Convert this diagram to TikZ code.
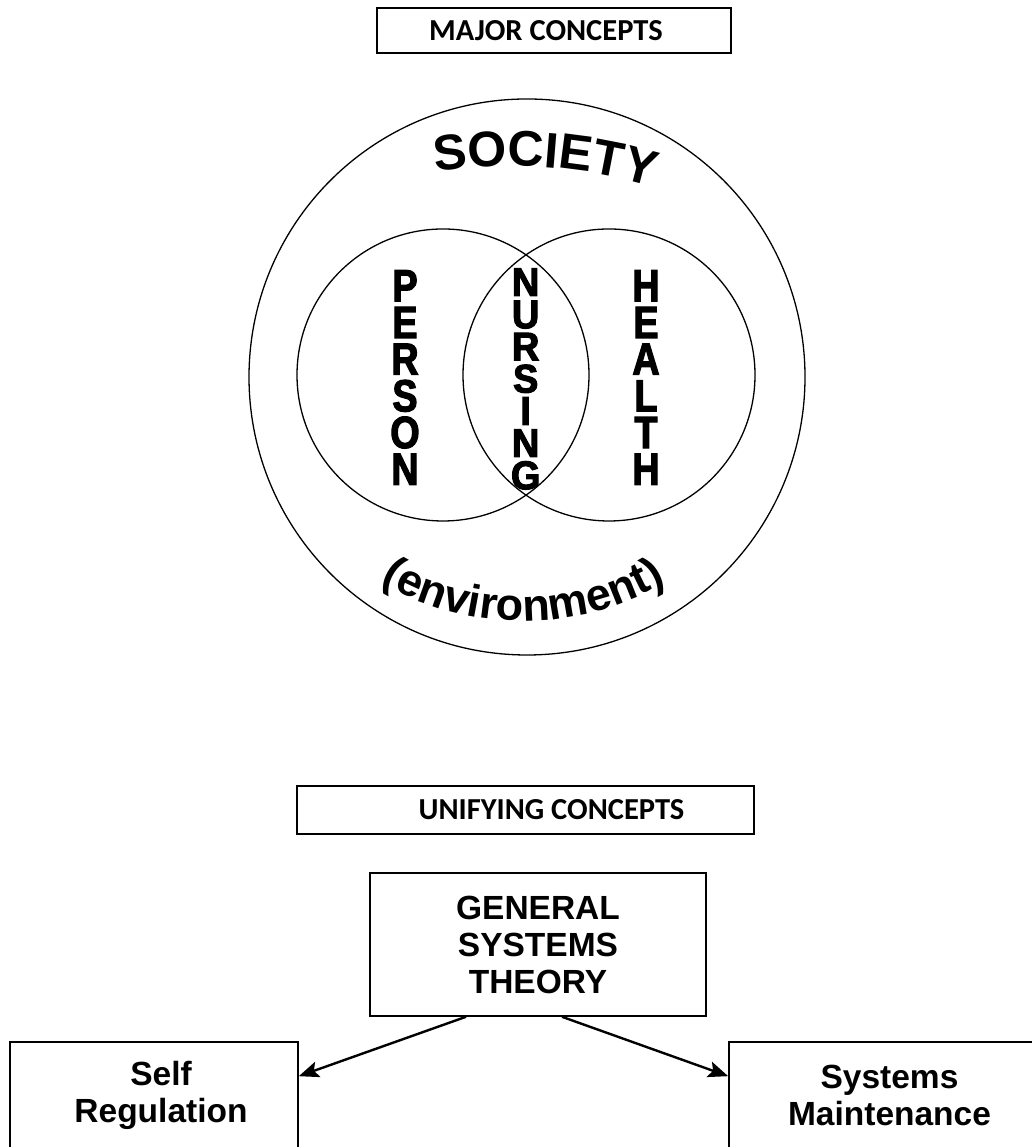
\documentclass[tikz,border=0pt]{standalone}
\usepackage{fontspec}
\setmainfont{Liberation Sans}
\newfontfamily\calibrifont{Carlito}
\newfontfamily\narrowfont[FakeStretch=0.84,FakeBold=2.6]{Liberation Sans Bold}
\newfontfamily\narrowfontB[FakeStretch=0.95,FakeBold=2.6]{Liberation Sans Bold}
\usetikzlibrary{arrows.meta,decorations.text}
\newcommand\mySocFont{\fontsize{50}{60}\selectfont\bfseries}
\newcommand\myEnvFont{\fontsize{45}{54}\selectfont\bfseries}
\tikzset{
  titlebox/.style={draw, line width=1.8pt, inner sep=0pt, font=\calibrifont\bfseries\fontsize{30.5}{36}\selectfont},
  ring/.style={draw, line width=1.3pt},
  vword/.style={align=center, inner sep=0pt},
  bigword/.style={vword, font=\narrowfont\fontsize{45}{36.7}\selectfont},
  midword/.style={vword, font=\narrowfontB\fontsize{40}{32.2}\selectfont},
  conceptbox/.style={draw, line width=1.6pt, inner sep=0pt},
  boxtext/.style={align=center, font=\bfseries\fontsize{33.5}{37}\selectfont},
  arr/.style={line width=2.4pt, -{Stealth[length=20pt,width=16pt,inset=4pt]}}
}
\begin{document}
\begin{tikzpicture}[x=1pt,y=1pt]
\useasboundingbox (0,0) rectangle (1031,1147);
% titles
\node[titlebox, minimum width=354, minimum height=45] (major) at (554,1116.5) {MAJOR CONCEPTS\kern16pt};
\node[titlebox, minimum width=457, minimum height=48] (unify) at (525.5,337) {\kern52pt UNIFYING CONCEPTS};
% circles
\node[ring, circle, minimum size=556, inner sep=0pt] (society) at (527,770) {};
\node[ring, circle, minimum size=292, inner sep=0pt] (personc) at (443,772) {};
\node[ring, circle, minimum size=292, inner sep=0pt] (healthc) at (609,772) {};
% vertical words
\node[bigword] (person) at (405,769.5) {P\\E\\R\\S\\O\\N};
\node[midword] (nursing) at (525.7,768) {N\\U\\R\\S\\I\\N\\G};
\node[bigword] (health) at (646,769.5) {H\\E\\A\\L\\T\\H};
% curved words
\coordinate (socc) at (510,481);
\path[decorate, decoration={text along path, text={|\mySocFont|SOCIETY}, text align=center}]
  ([shift={(102:500)}]socc) arc[start angle=102, end angle=70, radius=500];
\coordinate (envc) at (523,806);
\path[decorate, decoration={text along path, text={|\myEnvFont|(environment)}, text align=center}]
  ([shift={(230:280)}]envc) arc[start angle=230, end angle=310, radius=280];
% lower part
\node[conceptbox, minimum width=336, minimum height=143, boxtext] (gst) at (538,202.5) {GENERAL\\SYSTEMS\\THEORY};
\node[conceptbox, minimum width=288, minimum height=123,
  label={[boxtext, xshift=7, yshift=8]center:Self\\Regulation}] (selfreg) at (154,43.5) {};
\node[conceptbox, minimum width=321, minimum height=123,
  label={[boxtext, yshift=8]center:Systems\\Maintenance}] (sysmaint) at (889.5,43.5) {};
\draw[arr] ([xshift=-72]gst.south) -- ([yshift=-35]selfreg.north east);
\draw[arr] ([xshift=24]gst.south) -- ([yshift=-35]sysmaint.north west);
\end{tikzpicture}
\end{document}
